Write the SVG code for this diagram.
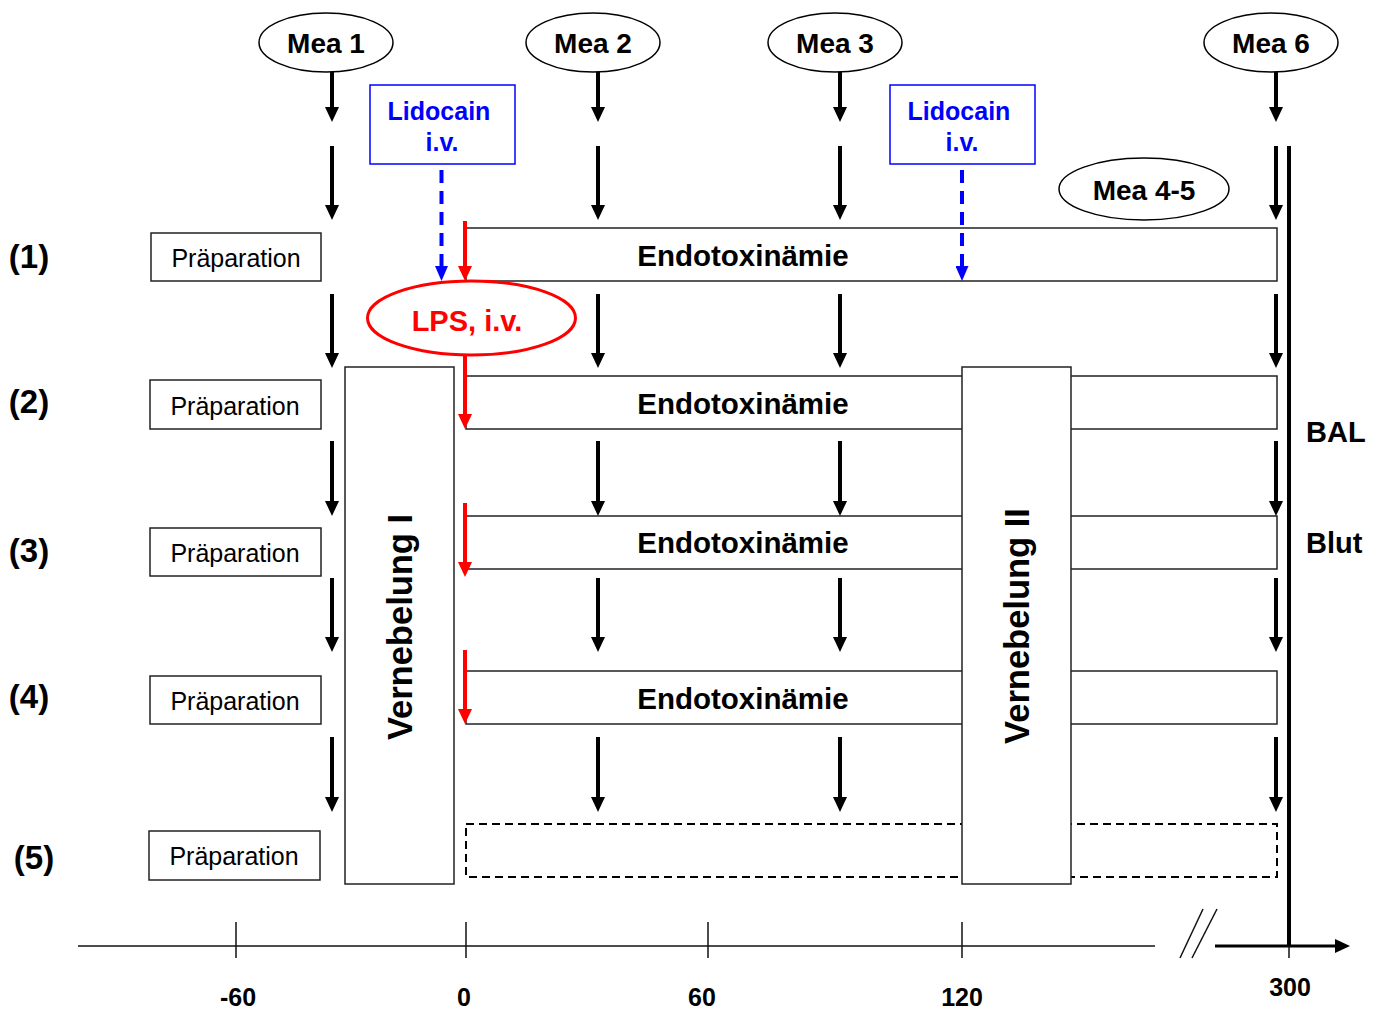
<svg xmlns="http://www.w3.org/2000/svg" width="1382" height="1010" viewBox="0 0 1382 1010">
<style>
text{font-family:"Liberation Sans",Arial,sans-serif;fill:#000}
.b{font-weight:bold}
.box{fill:#fff;stroke:#222;stroke-width:1.5}
.mea{fill:#fff;stroke:#000;stroke-width:1.5}
.blk{stroke:#000;stroke-width:4;fill:none}
.red{stroke:#f00;stroke-width:4;fill:none}
.blu{stroke:#00f;stroke-width:4;fill:none;stroke-dasharray:13 8}
.lido{fill:#fff;stroke:#00f;stroke-width:1.5}
.ax{stroke:#111;stroke-width:1.5;fill:none}
</style>
<defs>
<marker id="ah" markerUnits="userSpaceOnUse" markerWidth="15" markerHeight="14" viewBox="0 0 15 14" refX="3" refY="7" orient="auto"><path d="M0,0 L15,7 L0,14 z" fill="#000"/></marker>
<marker id="ahr" markerUnits="userSpaceOnUse" markerWidth="15" markerHeight="14" viewBox="0 0 15 14" refX="3" refY="7" orient="auto"><path d="M0,0 L15,7 L0,14 z" fill="#f00"/></marker>
<marker id="ahb" markerUnits="userSpaceOnUse" markerWidth="15" markerHeight="13" viewBox="0 0 15 13" refX="3" refY="6.5" orient="auto"><path d="M0,0 L15,6.5 L0,13 z" fill="#00f"/></marker>
</defs>

<!-- row labels -->
<g id="rowlabels" class="b" font-size="33" text-anchor="middle">
<text x="29" y="268" class="b">(1)</text>
<text x="29" y="413" class="b">(2)</text>
<text x="29" y="562" class="b">(3)</text>
<text x="29" y="708" class="b">(4)</text>
<text x="34" y="869" class="b">(5)</text>
</g>

<!-- Endotoxinämie rows -->
<g id="endo1"><rect class="box" x="466" y="228" width="811" height="53"/><text x="743" y="266" class="b" font-size="29.5" text-anchor="middle">Endotoxinämie</text></g>
<g id="endo2"><rect class="box" x="466" y="376" width="811" height="53"/><text x="743" y="414" class="b" font-size="29.5" text-anchor="middle">Endotoxinämie</text></g>
<g id="endo3"><rect class="box" x="466" y="516" width="811" height="53"/><text x="743" y="553" class="b" font-size="29.5" text-anchor="middle">Endotoxinämie</text></g>
<g id="endo4"><rect class="box" x="466" y="671" width="811" height="53"/><text x="743" y="709" class="b" font-size="29.5" text-anchor="middle">Endotoxinämie</text></g>
<g id="endo5"><rect x="466" y="824" width="811" height="53" fill="#fff" stroke="#000" stroke-width="2" stroke-dasharray="8 5"/></g>

<!-- Präparation -->
<g id="prep1"><rect class="box" x="151" y="233" width="170" height="48"/><text x="236" y="267" font-size="25" text-anchor="middle">Präparation</text></g>
<g id="prep2"><rect class="box" x="150" y="380" width="171" height="49"/><text x="235" y="415" font-size="25" text-anchor="middle">Präparation</text></g>
<g id="prep3"><rect class="box" x="150" y="528" width="171" height="48"/><text x="235" y="562" font-size="25" text-anchor="middle">Präparation</text></g>
<g id="prep4"><rect class="box" x="150" y="676" width="171" height="48"/><text x="235" y="710" font-size="25" text-anchor="middle">Präparation</text></g>
<g id="prep5"><rect class="box" x="149" y="831" width="171" height="49"/><text x="234" y="865" font-size="25" text-anchor="middle">Präparation</text></g>

<!-- Vernebelung -->
<g id="vern1"><rect class="box" x="345" y="367" width="109" height="517"/><text transform="translate(412,627) rotate(-90)" class="b" font-size="34.5" text-anchor="middle">Vernebelung I</text></g>
<g id="vern2"><rect class="box" x="962" y="367" width="109" height="517"/><text transform="translate(1029,626) rotate(-90)" class="b" font-size="34.5" text-anchor="middle">Vernebelung II</text></g>

<!-- Mea ellipses -->
<g id="mea1"><ellipse class="mea" cx="326" cy="42.5" rx="67" ry="29.5"/><text x="326" y="53" class="b" font-size="28" text-anchor="middle">Mea 1</text></g>
<g id="mea2"><ellipse class="mea" cx="593" cy="42.5" rx="67" ry="29.5"/><text x="593" y="53" class="b" font-size="28" text-anchor="middle">Mea 2</text></g>
<g id="mea3"><ellipse class="mea" cx="835" cy="42.5" rx="67" ry="29.5"/><text x="835" y="53" class="b" font-size="28" text-anchor="middle">Mea 3</text></g>
<g id="mea6"><ellipse class="mea" cx="1271" cy="42.5" rx="67" ry="29.5"/><text x="1271" y="53" class="b" font-size="28" text-anchor="middle">Mea 6</text></g>
<g id="mea45"><ellipse class="mea" cx="1144" cy="189" rx="85" ry="31"/><text x="1144" y="200" class="b" font-size="28" text-anchor="middle">Mea 4-5</text></g>

<!-- Lidocain -->
<g id="lido1"><rect class="lido" x="370" y="85" width="145" height="79"/><text x="439" y="120" class="b" font-size="25" text-anchor="middle" style="fill:#00f">Lidocain</text><text x="442" y="151" class="b" font-size="25" text-anchor="middle" style="fill:#00f">i.v.</text></g>
<g id="lido2"><rect class="lido" x="890" y="85" width="145" height="79"/><text x="959" y="120" class="b" font-size="25" text-anchor="middle" style="fill:#00f">Lidocain</text><text x="962" y="151" class="b" font-size="25" text-anchor="middle" style="fill:#00f">i.v.</text></g>

<!-- LPS -->
<g id="lps"><ellipse cx="471.5" cy="318" rx="104" ry="37" fill="#fff" stroke="#f00" stroke-width="3"/><text x="467" y="331" class="b" font-size="29" text-anchor="middle" style="fill:#f00">LPS, i.v.</text></g>

<!-- side labels -->
<g id="bal"><text x="1306" y="442" class="b" font-size="29">BAL</text></g>
<g id="blut"><text x="1306" y="553" class="b" font-size="29">Blut</text></g>

<!-- connectors -->
<g id="connectors">
<g class="blk" marker-end="url(#ah)">
<line x1="332" y1="72" x2="332" y2="110"/>
<line x1="332" y1="146" x2="332" y2="208"/>
<line x1="332" y1="294" x2="332" y2="356"/>
<line x1="332" y1="441" x2="332" y2="504"/>
<line x1="332" y1="578" x2="332" y2="640"/>
<line x1="332" y1="737" x2="332" y2="800"/>
<line x1="598" y1="72" x2="598" y2="110"/>
<line x1="598" y1="146" x2="598" y2="208"/>
<line x1="598" y1="294" x2="598" y2="356"/>
<line x1="598" y1="441" x2="598" y2="504"/>
<line x1="598" y1="578" x2="598" y2="640"/>
<line x1="598" y1="737" x2="598" y2="800"/>
<line x1="840" y1="72" x2="840" y2="110"/>
<line x1="840" y1="146" x2="840" y2="208"/>
<line x1="840" y1="294" x2="840" y2="356"/>
<line x1="840" y1="441" x2="840" y2="504"/>
<line x1="840" y1="578" x2="840" y2="640"/>
<line x1="840" y1="737" x2="840" y2="800"/>
<line x1="1276" y1="72" x2="1276" y2="110"/>
<line x1="1276" y1="146" x2="1276" y2="208"/>
<line x1="1276" y1="294" x2="1276" y2="356"/>
<line x1="1276" y1="441" x2="1276" y2="504"/>
<line x1="1276" y1="578" x2="1276" y2="640"/>
<line x1="1276" y1="737" x2="1276" y2="800"/>
</g>
<g class="red" marker-end="url(#ahr)">
<line x1="465" y1="221" x2="465" y2="269"/>
<line x1="465" y1="355" x2="465" y2="417"/>
<line x1="465" y1="503" x2="465" y2="565"/>
<line x1="465" y1="650" x2="465" y2="712"/>
</g>
<g class="blu" marker-end="url(#ahb)">
<line x1="441.5" y1="170" x2="441.5" y2="269"/>
<line x1="962" y1="170" x2="962" y2="269"/>
</g>
<line x1="1289" y1="146" x2="1289" y2="946" stroke="#000" stroke-width="4"/>
<line class="ax" x1="78" y1="946" x2="1155" y2="946"/>
<line class="ax" x1="1180" y1="958" x2="1203" y2="909"/>
<line class="ax" x1="1192" y1="958" x2="1217" y2="909"/>
<line x1="1215" y1="946" x2="1338" y2="946" stroke="#000" stroke-width="3" marker-end="url(#ah)"/>
<line class="ax" x1="236" y1="922" x2="236" y2="958"/>
<line class="ax" x1="466" y1="922" x2="466" y2="958"/>
<line class="ax" x1="708" y1="922" x2="708" y2="958"/>
<line class="ax" x1="962" y1="922" x2="962" y2="958"/>
<line class="ax" x1="1289" y1="946" x2="1289" y2="958"/>
</g>

<!-- axis labels -->
<g id="axislabels" font-size="25" text-anchor="middle">
<text x="238" y="1006" class="b">-60</text>
<text x="464" y="1006" class="b">0</text>
<text x="702" y="1006" class="b">60</text>
<text x="962" y="1006" class="b">120</text>
<text x="1290" y="996" class="b">300</text>
</g>
</svg>
